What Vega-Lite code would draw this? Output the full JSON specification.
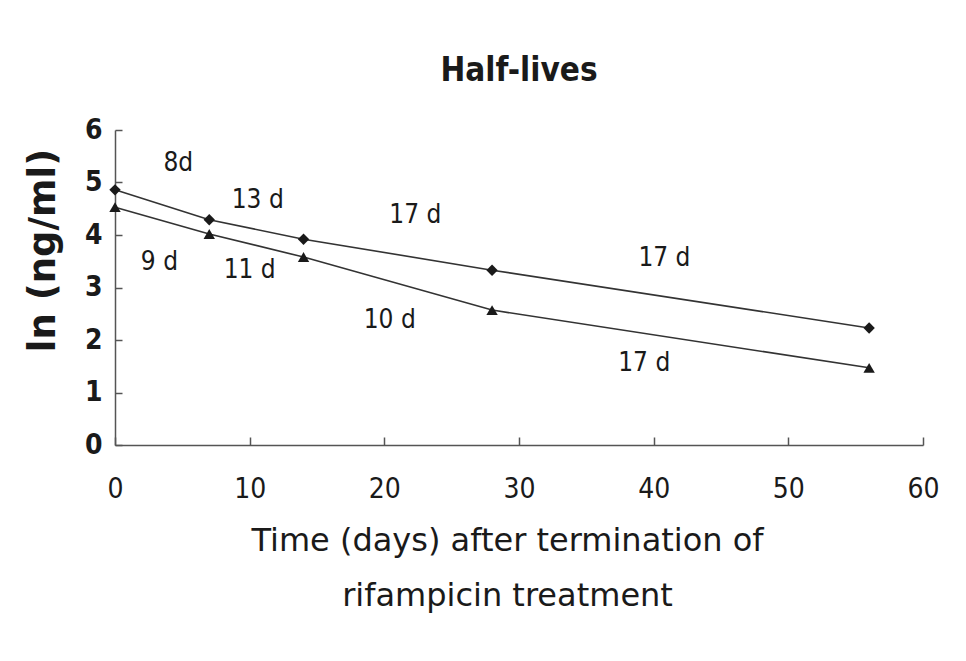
{
  "$schema": "https://vega.github.io/schema/vega-lite/v6.json",
  "width": 808,
  "height": 315,
  "autosize": {"type": "none"},
  "padding": {"left": 115, "top": 130, "right": 43, "bottom": 216},
  "background": "white",
  "config": {
    "view": {"stroke": null},
    "font": "DejaVu Sans Condensed, Open Sans, sans-serif"
  },
  "title": {
    "text": "Half-lives",
    "anchor": "middle",
    "frame": "group",
    "fontSize": 33,
    "fontWeight": "bold",
    "font": "DejaVu Sans Condensed, Open Sans, sans-serif",
    "color": "#1a1a1a",
    "offset": 28
  },
  "datasets": {
    "pts": [
      {"series": "A", "t": 0, "v": 4.86},
      {"series": "A", "t": 7, "v": 4.29},
      {"series": "A", "t": 14, "v": 3.92},
      {"series": "A", "t": 28, "v": 3.33},
      {"series": "A", "t": 56, "v": 2.23},
      {"series": "B", "t": 0, "v": 4.53},
      {"series": "B", "t": 7, "v": 4.02},
      {"series": "B", "t": 14, "v": 3.58},
      {"series": "B", "t": 28, "v": 2.57},
      {"series": "B", "t": 56, "v": 1.47}
    ],
    "labels": [
      {"t": 4.7, "v": 5.37, "label": "8d"},
      {"t": 10.6, "v": 4.67, "label": "13 d"},
      {"t": 22.3, "v": 4.38, "label": "17 d"},
      {"t": 40.8, "v": 3.56, "label": "17 d"},
      {"t": 3.3, "v": 3.49, "label": "9 d"},
      {"t": 10.0, "v": 3.33, "label": "11 d"},
      {"t": 20.4, "v": 2.38, "label": "10 d"},
      {"t": 39.3, "v": 1.56, "label": "17 d"}
    ]
  },
  "layer": [
    {
      "data": {"name": "pts"},
      "mark": {"type": "line", "color": "#333333", "strokeWidth": 1.6},
      "encoding": {
        "x": {
          "field": "t", "type": "quantitative",
          "scale": {"domain": [0, 60], "nice": false, "zero": false},
          "axis": {
            "values": [0, 10, 20, 30, 40, 50, 60],
            "grid": false,
            "domainColor": "#555555",
            "domainWidth": 1.5,
            "tickColor": "#555555",
            "tickWidth": 1.5,
            "tickSize": -8,
            "labelPadding": 38,
            "labelFontSize": 28,
            "labelColor": "#1a1a1a",
            "labelFlush": false,
            "title": ["Time (days) after termination of", "rifampicin treatment"],
            "titleFontSize": 32,
            "titleFont": "DejaVu Sans, sans-serif",
            "titleFontWeight": "normal",
            "titleColor": "#1a1a1a",
            "titlePadding": 22,
            "titleLineHeight": 55,
            "titleX": 392
          }
        },
        "y": {
          "field": "v", "type": "quantitative",
          "scale": {"domain": [0, 6], "nice": false, "zero": false},
          "axis": {
            "values": [0, 1, 2, 3, 4, 5, 6],
            "grid": false,
            "domainColor": "#555555",
            "domainWidth": 1.5,
            "tickColor": "#555555",
            "tickWidth": 1.5,
            "tickSize": -7,
            "labelPadding": 20,
            "labelFontSize": 28,
            "labelFontWeight": "bold",
            "labelColor": "#1a1a1a",
            "labelFlush": false,
            "title": "ln (ng/ml)",
            "titleFontSize": 37,
            "titleFont": "DejaVu Sans, sans-serif",
            "titleFontWeight": "bold",
            "titleColor": "#1a1a1a",
            "titleX": -61,
            "titleY": 120,
            "titleAngle": -90,
            "titleAlign": "center",
            "titleBaseline": "alphabetic"
          }
        },
        "detail": {"field": "series", "type": "nominal"}
      }
    },
    {
      "data": {"name": "pts"},
      "mark": {"type": "point", "filled": true, "color": "#1a1a1a", "opacity": 1, "size": 130},
      "encoding": {
        "x": {"field": "t", "type": "quantitative"},
        "y": {"field": "v", "type": "quantitative"},
        "shape": {
          "field": "series", "type": "nominal",
          "scale": {"domain": ["A", "B"], "range": ["diamond", "triangle-up"]},
          "legend": null
        }
      }
    },
    {
      "data": {"name": "labels"},
      "mark": {"type": "text", "fontSize": 26, "color": "#1a1a1a", "align": "center", "baseline": "middle"},
      "encoding": {
        "x": {"field": "t", "type": "quantitative"},
        "y": {"field": "v", "type": "quantitative"},
        "text": {"field": "label", "type": "nominal"}
      }
    }
  ]
}
